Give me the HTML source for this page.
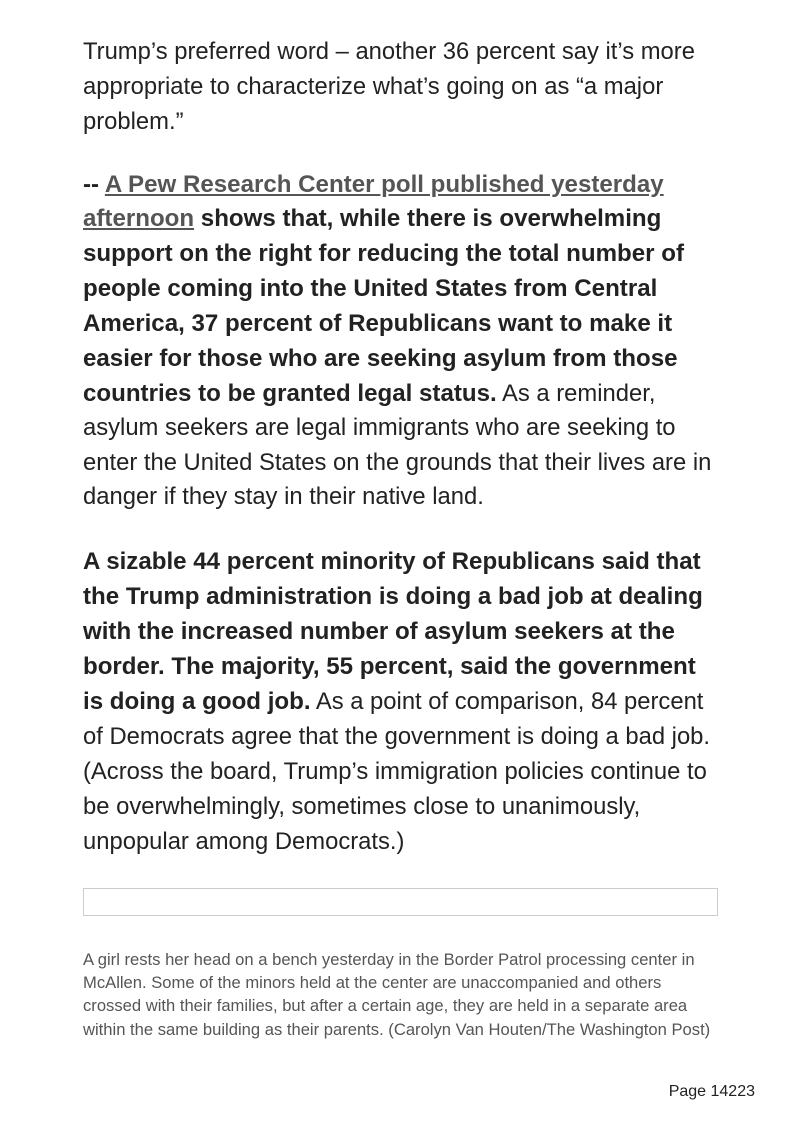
<!DOCTYPE html>
<html><head><meta charset="utf-8"><style>
body{margin:0;width:794px;height:1123px;background:#fff;position:relative;font-family:"Liberation Sans",Arial,sans-serif;color:#222;}
.l{position:absolute;left:83px;white-space:nowrap;font-size:23.8px;line-height:34px;}
b{font-weight:bold;font-size:24.1px;}
a{color:#555;text-decoration:underline;}
.c{position:absolute;left:83px;white-space:nowrap;font-size:16.6px;line-height:23px;color:#555;}
</style></head><body>
<div class="l" style="top:35px">Trump’s preferred word – another 36 percent say it’s more</div>
<div class="l" style="top:70px">appropriate to characterize what’s going on as “a major</div>
<div class="l" style="top:105px">problem.”</div>

<div class="l" style="top:168px"><b>-- <a>A Pew Research Center poll published yesterday</a></b></div>
<div class="l" style="top:202px"><b><a>afternoon</a> shows that, while there is overwhelming</b></div>
<div class="l" style="top:237px"><b>support on the right for reducing the total number of</b></div>
<div class="l" style="top:272px"><b>people coming into the United States from Central</b></div>
<div class="l" style="top:307px"><b>America, 37 percent of Republicans want to make it</b></div>
<div class="l" style="top:342px"><b>easier for those who are seeking asylum from those</b></div>
<div class="l" style="top:377px"><b>countries to be granted legal status.</b> As a reminder,</div>
<div class="l" style="top:411px">asylum seekers are legal immigrants who are seeking to</div>
<div class="l" style="top:446px">enter the United States on the grounds that their lives are in</div>
<div class="l" style="top:480px">danger if they stay in their native land.</div>

<div class="l" style="top:545px"><b>A sizable 44 percent minority of Republicans said that</b></div>
<div class="l" style="top:580px"><b>the Trump administration is doing a bad job at dealing</b></div>
<div class="l" style="top:615px"><b>with the increased number of asylum seekers at the</b></div>
<div class="l" style="top:650px"><b>border. The majority, 55 percent, said the government</b></div>
<div class="l" style="top:685px"><b>is doing a good job.</b> As a point of comparison, 84 percent</div>
<div class="l" style="top:720px">of Democrats agree that the government is doing a bad job.</div>
<div class="l" style="top:755px">(Across the board, Trump’s immigration policies continue to</div>
<div class="l" style="top:790px">be overwhelmingly, sometimes close to unanimously,</div>
<div class="l" style="top:825px">unpopular among Democrats.)</div>

<div style="position:absolute;left:83px;top:888px;width:635px;height:28px;border:1px solid #ccc;box-sizing:border-box;"></div>

<div class="c" style="top:948px">A girl rests her head on a bench yesterday in the Border Patrol processing center in</div>
<div class="c" style="top:971px">McAllen. Some of the minors held at the center are unaccompanied and others</div>
<div class="c" style="top:994px">crossed with their families, but after a certain age, they are held in a separate area</div>
<div class="c" style="top:1018px">within the same building as their parents. (Carolyn Van Houten/The Washington Post)</div>

<div style="position:absolute;right:39px;top:1083px;font-size:16px;color:#222;">Page 14223</div>
</body></html>
